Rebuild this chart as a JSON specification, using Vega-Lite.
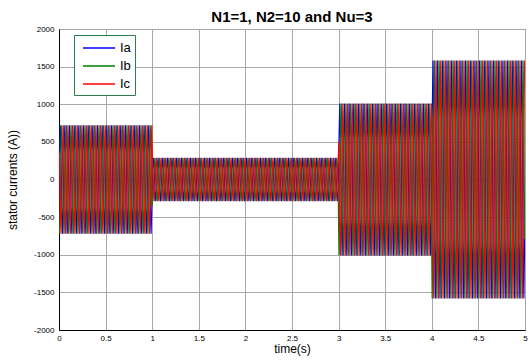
{"$schema":"https://vega.github.io/schema/vega-lite/v6.json","width":466,"height":301,"autosize":{"type":"none"},"padding":{"left":59,"top":29,"right":4,"bottom":30},"background":"white",
"title":{"text":"N1=1, N2=10 and Nu=3","fontSize":15,"fontWeight":"bold","font":"Liberation Sans","color":"black","anchor":"middle","offset":0},
"data":{"values":[
{"t":0.004,"Ia":360,"Ib":-720,"Ic":360},{"t":0.013,"Ia":720,"Ib":-360,"Ic":-360},{"t":0.021,"Ia":360,"Ib":360,"Ic":-720},{"t":0.029,"Ia":-360,"Ib":720,"Ic":-360},{"t":0.038,"Ia":-720,"Ib":360,"Ic":360},{"t":0.046,"Ia":-360,"Ib":-360,"Ic":720},
{"t":0.054,"Ia":360,"Ib":-720,"Ic":360},{"t":0.063,"Ia":720,"Ib":-360,"Ic":-360},{"t":0.071,"Ia":360,"Ib":360,"Ic":-720},{"t":0.079,"Ia":-360,"Ib":720,"Ic":-360},{"t":0.088,"Ia":-720,"Ib":360,"Ic":360},{"t":0.096,"Ia":-360,"Ib":-360,"Ic":720},
{"t":0.104,"Ia":360,"Ib":-720,"Ic":360},{"t":0.113,"Ia":720,"Ib":-360,"Ic":-360},{"t":0.121,"Ia":360,"Ib":360,"Ic":-720},{"t":0.129,"Ia":-360,"Ib":720,"Ic":-360},{"t":0.138,"Ia":-720,"Ib":360,"Ic":360},{"t":0.146,"Ia":-360,"Ib":-360,"Ic":720},
{"t":0.154,"Ia":360,"Ib":-720,"Ic":360},{"t":0.163,"Ia":720,"Ib":-360,"Ic":-360},{"t":0.171,"Ia":360,"Ib":360,"Ic":-720},{"t":0.179,"Ia":-360,"Ib":720,"Ic":-360},{"t":0.188,"Ia":-720,"Ib":360,"Ic":360},{"t":0.196,"Ia":-360,"Ib":-360,"Ic":720},
{"t":0.204,"Ia":360,"Ib":-720,"Ic":360},{"t":0.213,"Ia":720,"Ib":-360,"Ic":-360},{"t":0.221,"Ia":360,"Ib":360,"Ic":-720},{"t":0.229,"Ia":-360,"Ib":720,"Ic":-360},{"t":0.238,"Ia":-720,"Ib":360,"Ic":360},{"t":0.246,"Ia":-360,"Ib":-360,"Ic":720},
{"t":0.254,"Ia":360,"Ib":-720,"Ic":360},{"t":0.263,"Ia":720,"Ib":-360,"Ic":-360},{"t":0.271,"Ia":360,"Ib":360,"Ic":-720},{"t":0.279,"Ia":-360,"Ib":720,"Ic":-360},{"t":0.288,"Ia":-720,"Ib":360,"Ic":360},{"t":0.296,"Ia":-360,"Ib":-360,"Ic":720},
{"t":0.304,"Ia":360,"Ib":-720,"Ic":360},{"t":0.313,"Ia":720,"Ib":-360,"Ic":-360},{"t":0.321,"Ia":360,"Ib":360,"Ic":-720},{"t":0.329,"Ia":-360,"Ib":720,"Ic":-360},{"t":0.338,"Ia":-720,"Ib":360,"Ic":360},{"t":0.346,"Ia":-360,"Ib":-360,"Ic":720},
{"t":0.354,"Ia":360,"Ib":-720,"Ic":360},{"t":0.363,"Ia":720,"Ib":-360,"Ic":-360},{"t":0.371,"Ia":360,"Ib":360,"Ic":-720},{"t":0.379,"Ia":-360,"Ib":720,"Ic":-360},{"t":0.388,"Ia":-720,"Ib":360,"Ic":360},{"t":0.396,"Ia":-360,"Ib":-360,"Ic":720},
{"t":0.404,"Ia":360,"Ib":-720,"Ic":360},{"t":0.413,"Ia":720,"Ib":-360,"Ic":-360},{"t":0.421,"Ia":360,"Ib":360,"Ic":-720},{"t":0.429,"Ia":-360,"Ib":720,"Ic":-360},{"t":0.438,"Ia":-720,"Ib":360,"Ic":360},{"t":0.446,"Ia":-360,"Ib":-360,"Ic":720},
{"t":0.454,"Ia":360,"Ib":-720,"Ic":360},{"t":0.463,"Ia":720,"Ib":-360,"Ic":-360},{"t":0.471,"Ia":360,"Ib":360,"Ic":-720},{"t":0.479,"Ia":-360,"Ib":720,"Ic":-360},{"t":0.488,"Ia":-720,"Ib":360,"Ic":360},{"t":0.496,"Ia":-360,"Ib":-360,"Ic":720},
{"t":0.504,"Ia":360,"Ib":-720,"Ic":360},{"t":0.513,"Ia":720,"Ib":-360,"Ic":-360},{"t":0.521,"Ia":360,"Ib":360,"Ic":-720},{"t":0.529,"Ia":-360,"Ib":720,"Ic":-360},{"t":0.538,"Ia":-720,"Ib":360,"Ic":360},{"t":0.546,"Ia":-360,"Ib":-360,"Ic":720},
{"t":0.554,"Ia":360,"Ib":-720,"Ic":360},{"t":0.563,"Ia":720,"Ib":-360,"Ic":-360},{"t":0.571,"Ia":360,"Ib":360,"Ic":-720},{"t":0.579,"Ia":-360,"Ib":720,"Ic":-360},{"t":0.588,"Ia":-720,"Ib":360,"Ic":360},{"t":0.596,"Ia":-360,"Ib":-360,"Ic":720},
{"t":0.604,"Ia":360,"Ib":-720,"Ic":360},{"t":0.613,"Ia":720,"Ib":-360,"Ic":-360},{"t":0.621,"Ia":360,"Ib":360,"Ic":-720},{"t":0.629,"Ia":-360,"Ib":720,"Ic":-360},{"t":0.638,"Ia":-720,"Ib":360,"Ic":360},{"t":0.646,"Ia":-360,"Ib":-360,"Ic":720},
{"t":0.654,"Ia":360,"Ib":-720,"Ic":360},{"t":0.663,"Ia":720,"Ib":-360,"Ic":-360},{"t":0.671,"Ia":360,"Ib":360,"Ic":-720},{"t":0.679,"Ia":-360,"Ib":720,"Ic":-360},{"t":0.688,"Ia":-720,"Ib":360,"Ic":360},{"t":0.696,"Ia":-360,"Ib":-360,"Ic":720},
{"t":0.704,"Ia":360,"Ib":-720,"Ic":360},{"t":0.713,"Ia":720,"Ib":-360,"Ic":-360},{"t":0.721,"Ia":360,"Ib":360,"Ic":-720},{"t":0.729,"Ia":-360,"Ib":720,"Ic":-360},{"t":0.738,"Ia":-720,"Ib":360,"Ic":360},{"t":0.746,"Ia":-360,"Ib":-360,"Ic":720},
{"t":0.754,"Ia":360,"Ib":-720,"Ic":360},{"t":0.763,"Ia":720,"Ib":-360,"Ic":-360},{"t":0.771,"Ia":360,"Ib":360,"Ic":-720},{"t":0.779,"Ia":-360,"Ib":720,"Ic":-360},{"t":0.788,"Ia":-720,"Ib":360,"Ic":360},{"t":0.796,"Ia":-360,"Ib":-360,"Ic":720},
{"t":0.804,"Ia":360,"Ib":-720,"Ic":360},{"t":0.813,"Ia":720,"Ib":-360,"Ic":-360},{"t":0.821,"Ia":360,"Ib":360,"Ic":-720},{"t":0.829,"Ia":-360,"Ib":720,"Ic":-360},{"t":0.838,"Ia":-720,"Ib":360,"Ic":360},{"t":0.846,"Ia":-360,"Ib":-360,"Ic":720},
{"t":0.854,"Ia":360,"Ib":-720,"Ic":360},{"t":0.863,"Ia":720,"Ib":-360,"Ic":-360},{"t":0.871,"Ia":360,"Ib":360,"Ic":-720},{"t":0.879,"Ia":-360,"Ib":720,"Ic":-360},{"t":0.888,"Ia":-720,"Ib":360,"Ic":360},{"t":0.896,"Ia":-360,"Ib":-360,"Ic":720},
{"t":0.904,"Ia":360,"Ib":-720,"Ic":360},{"t":0.913,"Ia":720,"Ib":-360,"Ic":-360},{"t":0.921,"Ia":360,"Ib":360,"Ic":-720},{"t":0.929,"Ia":-360,"Ib":720,"Ic":-360},{"t":0.938,"Ia":-720,"Ib":360,"Ic":360},{"t":0.946,"Ia":-360,"Ib":-360,"Ic":720},
{"t":0.954,"Ia":360,"Ib":-720,"Ic":360},{"t":0.963,"Ia":720,"Ib":-360,"Ic":-360},{"t":0.971,"Ia":360,"Ib":360,"Ic":-720},{"t":0.979,"Ia":-360,"Ib":720,"Ic":-360},{"t":0.988,"Ia":-720,"Ib":360,"Ic":360},{"t":0.996,"Ia":-360,"Ib":-360,"Ic":720},
{"t":1.004,"Ia":145,"Ib":-290,"Ic":145},{"t":1.013,"Ia":290,"Ib":-145,"Ic":-145},{"t":1.021,"Ia":145,"Ib":145,"Ic":-290},{"t":1.029,"Ia":-145,"Ib":290,"Ic":-145},{"t":1.038,"Ia":-290,"Ib":145,"Ic":145},{"t":1.046,"Ia":-145,"Ib":-145,"Ic":290},
{"t":1.054,"Ia":145,"Ib":-290,"Ic":145},{"t":1.063,"Ia":290,"Ib":-145,"Ic":-145},{"t":1.071,"Ia":145,"Ib":145,"Ic":-290},{"t":1.079,"Ia":-145,"Ib":290,"Ic":-145},{"t":1.088,"Ia":-290,"Ib":145,"Ic":145},{"t":1.096,"Ia":-145,"Ib":-145,"Ic":290},
{"t":1.104,"Ia":145,"Ib":-290,"Ic":145},{"t":1.113,"Ia":290,"Ib":-145,"Ic":-145},{"t":1.121,"Ia":145,"Ib":145,"Ic":-290},{"t":1.129,"Ia":-145,"Ib":290,"Ic":-145},{"t":1.138,"Ia":-290,"Ib":145,"Ic":145},{"t":1.146,"Ia":-145,"Ib":-145,"Ic":290},
{"t":1.154,"Ia":145,"Ib":-290,"Ic":145},{"t":1.163,"Ia":290,"Ib":-145,"Ic":-145},{"t":1.171,"Ia":145,"Ib":145,"Ic":-290},{"t":1.179,"Ia":-145,"Ib":290,"Ic":-145},{"t":1.188,"Ia":-290,"Ib":145,"Ic":145},{"t":1.196,"Ia":-145,"Ib":-145,"Ic":290},
{"t":1.204,"Ia":145,"Ib":-290,"Ic":145},{"t":1.213,"Ia":290,"Ib":-145,"Ic":-145},{"t":1.221,"Ia":145,"Ib":145,"Ic":-290},{"t":1.229,"Ia":-145,"Ib":290,"Ic":-145},{"t":1.238,"Ia":-290,"Ib":145,"Ic":145},{"t":1.246,"Ia":-145,"Ib":-145,"Ic":290},
{"t":1.254,"Ia":145,"Ib":-290,"Ic":145},{"t":1.263,"Ia":290,"Ib":-145,"Ic":-145},{"t":1.271,"Ia":145,"Ib":145,"Ic":-290},{"t":1.279,"Ia":-145,"Ib":290,"Ic":-145},{"t":1.288,"Ia":-290,"Ib":145,"Ic":145},{"t":1.296,"Ia":-145,"Ib":-145,"Ic":290},
{"t":1.304,"Ia":145,"Ib":-290,"Ic":145},{"t":1.313,"Ia":290,"Ib":-145,"Ic":-145},{"t":1.321,"Ia":145,"Ib":145,"Ic":-290},{"t":1.329,"Ia":-145,"Ib":290,"Ic":-145},{"t":1.338,"Ia":-290,"Ib":145,"Ic":145},{"t":1.346,"Ia":-145,"Ib":-145,"Ic":290},
{"t":1.354,"Ia":145,"Ib":-290,"Ic":145},{"t":1.363,"Ia":290,"Ib":-145,"Ic":-145},{"t":1.371,"Ia":145,"Ib":145,"Ic":-290},{"t":1.379,"Ia":-145,"Ib":290,"Ic":-145},{"t":1.388,"Ia":-290,"Ib":145,"Ic":145},{"t":1.396,"Ia":-145,"Ib":-145,"Ic":290},
{"t":1.404,"Ia":145,"Ib":-290,"Ic":145},{"t":1.413,"Ia":290,"Ib":-145,"Ic":-145},{"t":1.421,"Ia":145,"Ib":145,"Ic":-290},{"t":1.429,"Ia":-145,"Ib":290,"Ic":-145},{"t":1.438,"Ia":-290,"Ib":145,"Ic":145},{"t":1.446,"Ia":-145,"Ib":-145,"Ic":290},
{"t":1.454,"Ia":145,"Ib":-290,"Ic":145},{"t":1.463,"Ia":290,"Ib":-145,"Ic":-145},{"t":1.471,"Ia":145,"Ib":145,"Ic":-290},{"t":1.479,"Ia":-145,"Ib":290,"Ic":-145},{"t":1.488,"Ia":-290,"Ib":145,"Ic":145},{"t":1.496,"Ia":-145,"Ib":-145,"Ic":290},
{"t":1.504,"Ia":145,"Ib":-290,"Ic":145},{"t":1.513,"Ia":290,"Ib":-145,"Ic":-145},{"t":1.521,"Ia":145,"Ib":145,"Ic":-290},{"t":1.529,"Ia":-145,"Ib":290,"Ic":-145},{"t":1.538,"Ia":-290,"Ib":145,"Ic":145},{"t":1.546,"Ia":-145,"Ib":-145,"Ic":290},
{"t":1.554,"Ia":145,"Ib":-290,"Ic":145},{"t":1.563,"Ia":290,"Ib":-145,"Ic":-145},{"t":1.571,"Ia":145,"Ib":145,"Ic":-290},{"t":1.579,"Ia":-145,"Ib":290,"Ic":-145},{"t":1.588,"Ia":-290,"Ib":145,"Ic":145},{"t":1.596,"Ia":-145,"Ib":-145,"Ic":290},
{"t":1.604,"Ia":145,"Ib":-290,"Ic":145},{"t":1.613,"Ia":290,"Ib":-145,"Ic":-145},{"t":1.621,"Ia":145,"Ib":145,"Ic":-290},{"t":1.629,"Ia":-145,"Ib":290,"Ic":-145},{"t":1.638,"Ia":-290,"Ib":145,"Ic":145},{"t":1.646,"Ia":-145,"Ib":-145,"Ic":290},
{"t":1.654,"Ia":145,"Ib":-290,"Ic":145},{"t":1.663,"Ia":290,"Ib":-145,"Ic":-145},{"t":1.671,"Ia":145,"Ib":145,"Ic":-290},{"t":1.679,"Ia":-145,"Ib":290,"Ic":-145},{"t":1.688,"Ia":-290,"Ib":145,"Ic":145},{"t":1.696,"Ia":-145,"Ib":-145,"Ic":290},
{"t":1.704,"Ia":145,"Ib":-290,"Ic":145},{"t":1.713,"Ia":290,"Ib":-145,"Ic":-145},{"t":1.721,"Ia":145,"Ib":145,"Ic":-290},{"t":1.729,"Ia":-145,"Ib":290,"Ic":-145},{"t":1.738,"Ia":-290,"Ib":145,"Ic":145},{"t":1.746,"Ia":-145,"Ib":-145,"Ic":290},
{"t":1.754,"Ia":145,"Ib":-290,"Ic":145},{"t":1.763,"Ia":290,"Ib":-145,"Ic":-145},{"t":1.771,"Ia":145,"Ib":145,"Ic":-290},{"t":1.779,"Ia":-145,"Ib":290,"Ic":-145},{"t":1.788,"Ia":-290,"Ib":145,"Ic":145},{"t":1.796,"Ia":-145,"Ib":-145,"Ic":290},
{"t":1.804,"Ia":145,"Ib":-290,"Ic":145},{"t":1.813,"Ia":290,"Ib":-145,"Ic":-145},{"t":1.821,"Ia":145,"Ib":145,"Ic":-290},{"t":1.829,"Ia":-145,"Ib":290,"Ic":-145},{"t":1.838,"Ia":-290,"Ib":145,"Ic":145},{"t":1.846,"Ia":-145,"Ib":-145,"Ic":290},
{"t":1.854,"Ia":145,"Ib":-290,"Ic":145},{"t":1.863,"Ia":290,"Ib":-145,"Ic":-145},{"t":1.871,"Ia":145,"Ib":145,"Ic":-290},{"t":1.879,"Ia":-145,"Ib":290,"Ic":-145},{"t":1.888,"Ia":-290,"Ib":145,"Ic":145},{"t":1.896,"Ia":-145,"Ib":-145,"Ic":290},
{"t":1.904,"Ia":145,"Ib":-290,"Ic":145},{"t":1.913,"Ia":290,"Ib":-145,"Ic":-145},{"t":1.921,"Ia":145,"Ib":145,"Ic":-290},{"t":1.929,"Ia":-145,"Ib":290,"Ic":-145},{"t":1.938,"Ia":-290,"Ib":145,"Ic":145},{"t":1.946,"Ia":-145,"Ib":-145,"Ic":290},
{"t":1.954,"Ia":145,"Ib":-290,"Ic":145},{"t":1.963,"Ia":290,"Ib":-145,"Ic":-145},{"t":1.971,"Ia":145,"Ib":145,"Ic":-290},{"t":1.979,"Ia":-145,"Ib":290,"Ic":-145},{"t":1.988,"Ia":-290,"Ib":145,"Ic":145},{"t":1.996,"Ia":-145,"Ib":-145,"Ic":290},
{"t":2.004,"Ia":145,"Ib":-290,"Ic":145},{"t":2.013,"Ia":290,"Ib":-145,"Ic":-145},{"t":2.021,"Ia":145,"Ib":145,"Ic":-290},{"t":2.029,"Ia":-145,"Ib":290,"Ic":-145},{"t":2.038,"Ia":-290,"Ib":145,"Ic":145},{"t":2.046,"Ia":-145,"Ib":-145,"Ic":290},
{"t":2.054,"Ia":145,"Ib":-290,"Ic":145},{"t":2.063,"Ia":290,"Ib":-145,"Ic":-145},{"t":2.071,"Ia":145,"Ib":145,"Ic":-290},{"t":2.079,"Ia":-145,"Ib":290,"Ic":-145},{"t":2.088,"Ia":-290,"Ib":145,"Ic":145},{"t":2.096,"Ia":-145,"Ib":-145,"Ic":290},
{"t":2.104,"Ia":145,"Ib":-290,"Ic":145},{"t":2.113,"Ia":290,"Ib":-145,"Ic":-145},{"t":2.121,"Ia":145,"Ib":145,"Ic":-290},{"t":2.129,"Ia":-145,"Ib":290,"Ic":-145},{"t":2.138,"Ia":-290,"Ib":145,"Ic":145},{"t":2.146,"Ia":-145,"Ib":-145,"Ic":290},
{"t":2.154,"Ia":145,"Ib":-290,"Ic":145},{"t":2.163,"Ia":290,"Ib":-145,"Ic":-145},{"t":2.171,"Ia":145,"Ib":145,"Ic":-290},{"t":2.179,"Ia":-145,"Ib":290,"Ic":-145},{"t":2.188,"Ia":-290,"Ib":145,"Ic":145},{"t":2.196,"Ia":-145,"Ib":-145,"Ic":290},
{"t":2.204,"Ia":145,"Ib":-290,"Ic":145},{"t":2.213,"Ia":290,"Ib":-145,"Ic":-145},{"t":2.221,"Ia":145,"Ib":145,"Ic":-290},{"t":2.229,"Ia":-145,"Ib":290,"Ic":-145},{"t":2.238,"Ia":-290,"Ib":145,"Ic":145},{"t":2.246,"Ia":-145,"Ib":-145,"Ic":290},
{"t":2.254,"Ia":145,"Ib":-290,"Ic":145},{"t":2.263,"Ia":290,"Ib":-145,"Ic":-145},{"t":2.271,"Ia":145,"Ib":145,"Ic":-290},{"t":2.279,"Ia":-145,"Ib":290,"Ic":-145},{"t":2.288,"Ia":-290,"Ib":145,"Ic":145},{"t":2.296,"Ia":-145,"Ib":-145,"Ic":290},
{"t":2.304,"Ia":145,"Ib":-290,"Ic":145},{"t":2.313,"Ia":290,"Ib":-145,"Ic":-145},{"t":2.321,"Ia":145,"Ib":145,"Ic":-290},{"t":2.329,"Ia":-145,"Ib":290,"Ic":-145},{"t":2.338,"Ia":-290,"Ib":145,"Ic":145},{"t":2.346,"Ia":-145,"Ib":-145,"Ic":290},
{"t":2.354,"Ia":145,"Ib":-290,"Ic":145},{"t":2.363,"Ia":290,"Ib":-145,"Ic":-145},{"t":2.371,"Ia":145,"Ib":145,"Ic":-290},{"t":2.379,"Ia":-145,"Ib":290,"Ic":-145},{"t":2.388,"Ia":-290,"Ib":145,"Ic":145},{"t":2.396,"Ia":-145,"Ib":-145,"Ic":290},
{"t":2.404,"Ia":145,"Ib":-290,"Ic":145},{"t":2.413,"Ia":290,"Ib":-145,"Ic":-145},{"t":2.421,"Ia":145,"Ib":145,"Ic":-290},{"t":2.429,"Ia":-145,"Ib":290,"Ic":-145},{"t":2.438,"Ia":-290,"Ib":145,"Ic":145},{"t":2.446,"Ia":-145,"Ib":-145,"Ic":290},
{"t":2.454,"Ia":145,"Ib":-290,"Ic":145},{"t":2.463,"Ia":290,"Ib":-145,"Ic":-145},{"t":2.471,"Ia":145,"Ib":145,"Ic":-290},{"t":2.479,"Ia":-145,"Ib":290,"Ic":-145},{"t":2.488,"Ia":-290,"Ib":145,"Ic":145},{"t":2.496,"Ia":-145,"Ib":-145,"Ic":290},
{"t":2.504,"Ia":145,"Ib":-290,"Ic":145},{"t":2.513,"Ia":290,"Ib":-145,"Ic":-145},{"t":2.521,"Ia":145,"Ib":145,"Ic":-290},{"t":2.529,"Ia":-145,"Ib":290,"Ic":-145},{"t":2.538,"Ia":-290,"Ib":145,"Ic":145},{"t":2.546,"Ia":-145,"Ib":-145,"Ic":290},
{"t":2.554,"Ia":145,"Ib":-290,"Ic":145},{"t":2.563,"Ia":290,"Ib":-145,"Ic":-145},{"t":2.571,"Ia":145,"Ib":145,"Ic":-290},{"t":2.579,"Ia":-145,"Ib":290,"Ic":-145},{"t":2.588,"Ia":-290,"Ib":145,"Ic":145},{"t":2.596,"Ia":-145,"Ib":-145,"Ic":290},
{"t":2.604,"Ia":145,"Ib":-290,"Ic":145},{"t":2.613,"Ia":290,"Ib":-145,"Ic":-145},{"t":2.621,"Ia":145,"Ib":145,"Ic":-290},{"t":2.629,"Ia":-145,"Ib":290,"Ic":-145},{"t":2.638,"Ia":-290,"Ib":145,"Ic":145},{"t":2.646,"Ia":-145,"Ib":-145,"Ic":290},
{"t":2.654,"Ia":145,"Ib":-290,"Ic":145},{"t":2.663,"Ia":290,"Ib":-145,"Ic":-145},{"t":2.671,"Ia":145,"Ib":145,"Ic":-290},{"t":2.679,"Ia":-145,"Ib":290,"Ic":-145},{"t":2.688,"Ia":-290,"Ib":145,"Ic":145},{"t":2.696,"Ia":-145,"Ib":-145,"Ic":290},
{"t":2.704,"Ia":145,"Ib":-290,"Ic":145},{"t":2.713,"Ia":290,"Ib":-145,"Ic":-145},{"t":2.721,"Ia":145,"Ib":145,"Ic":-290},{"t":2.729,"Ia":-145,"Ib":290,"Ic":-145},{"t":2.738,"Ia":-290,"Ib":145,"Ic":145},{"t":2.746,"Ia":-145,"Ib":-145,"Ic":290},
{"t":2.754,"Ia":145,"Ib":-290,"Ic":145},{"t":2.763,"Ia":290,"Ib":-145,"Ic":-145},{"t":2.771,"Ia":145,"Ib":145,"Ic":-290},{"t":2.779,"Ia":-145,"Ib":290,"Ic":-145},{"t":2.788,"Ia":-290,"Ib":145,"Ic":145},{"t":2.796,"Ia":-145,"Ib":-145,"Ic":290},
{"t":2.804,"Ia":145,"Ib":-290,"Ic":145},{"t":2.813,"Ia":290,"Ib":-145,"Ic":-145},{"t":2.821,"Ia":145,"Ib":145,"Ic":-290},{"t":2.829,"Ia":-145,"Ib":290,"Ic":-145},{"t":2.838,"Ia":-290,"Ib":145,"Ic":145},{"t":2.846,"Ia":-145,"Ib":-145,"Ic":290},
{"t":2.854,"Ia":145,"Ib":-290,"Ic":145},{"t":2.863,"Ia":290,"Ib":-145,"Ic":-145},{"t":2.871,"Ia":145,"Ib":145,"Ic":-290},{"t":2.879,"Ia":-145,"Ib":290,"Ic":-145},{"t":2.888,"Ia":-290,"Ib":145,"Ic":145},{"t":2.896,"Ia":-145,"Ib":-145,"Ic":290},
{"t":2.904,"Ia":145,"Ib":-290,"Ic":145},{"t":2.913,"Ia":290,"Ib":-145,"Ic":-145},{"t":2.921,"Ia":145,"Ib":145,"Ic":-290},{"t":2.929,"Ia":-145,"Ib":290,"Ic":-145},{"t":2.938,"Ia":-290,"Ib":145,"Ic":145},{"t":2.946,"Ia":-145,"Ib":-145,"Ic":290},
{"t":2.954,"Ia":145,"Ib":-290,"Ic":145},{"t":2.963,"Ia":290,"Ib":-145,"Ic":-145},{"t":2.971,"Ia":145,"Ib":145,"Ic":-290},{"t":2.979,"Ia":-145,"Ib":290,"Ic":-145},{"t":2.988,"Ia":-290,"Ib":145,"Ic":145},{"t":2.996,"Ia":-145,"Ib":-145,"Ic":290},
{"t":3.004,"Ia":505,"Ib":-1010,"Ic":505},{"t":3.013,"Ia":1010,"Ib":-505,"Ic":-505},{"t":3.021,"Ia":505,"Ib":505,"Ic":-1010},{"t":3.029,"Ia":-505,"Ib":1010,"Ic":-505},{"t":3.038,"Ia":-1010,"Ib":505,"Ic":505},{"t":3.046,"Ia":-505,"Ib":-505,"Ic":1010},
{"t":3.054,"Ia":505,"Ib":-1010,"Ic":505},{"t":3.063,"Ia":1010,"Ib":-505,"Ic":-505},{"t":3.071,"Ia":505,"Ib":505,"Ic":-1010},{"t":3.079,"Ia":-505,"Ib":1010,"Ic":-505},{"t":3.088,"Ia":-1010,"Ib":505,"Ic":505},{"t":3.096,"Ia":-505,"Ib":-505,"Ic":1010},
{"t":3.104,"Ia":505,"Ib":-1010,"Ic":505},{"t":3.113,"Ia":1010,"Ib":-505,"Ic":-505},{"t":3.121,"Ia":505,"Ib":505,"Ic":-1010},{"t":3.129,"Ia":-505,"Ib":1010,"Ic":-505},{"t":3.138,"Ia":-1010,"Ib":505,"Ic":505},{"t":3.146,"Ia":-505,"Ib":-505,"Ic":1010},
{"t":3.154,"Ia":505,"Ib":-1010,"Ic":505},{"t":3.163,"Ia":1010,"Ib":-505,"Ic":-505},{"t":3.171,"Ia":505,"Ib":505,"Ic":-1010},{"t":3.179,"Ia":-505,"Ib":1010,"Ic":-505},{"t":3.188,"Ia":-1010,"Ib":505,"Ic":505},{"t":3.196,"Ia":-505,"Ib":-505,"Ic":1010},
{"t":3.204,"Ia":505,"Ib":-1010,"Ic":505},{"t":3.213,"Ia":1010,"Ib":-505,"Ic":-505},{"t":3.221,"Ia":505,"Ib":505,"Ic":-1010},{"t":3.229,"Ia":-505,"Ib":1010,"Ic":-505},{"t":3.238,"Ia":-1010,"Ib":505,"Ic":505},{"t":3.246,"Ia":-505,"Ib":-505,"Ic":1010},
{"t":3.254,"Ia":505,"Ib":-1010,"Ic":505},{"t":3.263,"Ia":1010,"Ib":-505,"Ic":-505},{"t":3.271,"Ia":505,"Ib":505,"Ic":-1010},{"t":3.279,"Ia":-505,"Ib":1010,"Ic":-505},{"t":3.288,"Ia":-1010,"Ib":505,"Ic":505},{"t":3.296,"Ia":-505,"Ib":-505,"Ic":1010},
{"t":3.304,"Ia":505,"Ib":-1010,"Ic":505},{"t":3.313,"Ia":1010,"Ib":-505,"Ic":-505},{"t":3.321,"Ia":505,"Ib":505,"Ic":-1010},{"t":3.329,"Ia":-505,"Ib":1010,"Ic":-505},{"t":3.338,"Ia":-1010,"Ib":505,"Ic":505},{"t":3.346,"Ia":-505,"Ib":-505,"Ic":1010},
{"t":3.354,"Ia":505,"Ib":-1010,"Ic":505},{"t":3.363,"Ia":1010,"Ib":-505,"Ic":-505},{"t":3.371,"Ia":505,"Ib":505,"Ic":-1010},{"t":3.379,"Ia":-505,"Ib":1010,"Ic":-505},{"t":3.388,"Ia":-1010,"Ib":505,"Ic":505},{"t":3.396,"Ia":-505,"Ib":-505,"Ic":1010},
{"t":3.404,"Ia":505,"Ib":-1010,"Ic":505},{"t":3.413,"Ia":1010,"Ib":-505,"Ic":-505},{"t":3.421,"Ia":505,"Ib":505,"Ic":-1010},{"t":3.429,"Ia":-505,"Ib":1010,"Ic":-505},{"t":3.438,"Ia":-1010,"Ib":505,"Ic":505},{"t":3.446,"Ia":-505,"Ib":-505,"Ic":1010},
{"t":3.454,"Ia":505,"Ib":-1010,"Ic":505},{"t":3.463,"Ia":1010,"Ib":-505,"Ic":-505},{"t":3.471,"Ia":505,"Ib":505,"Ic":-1010},{"t":3.479,"Ia":-505,"Ib":1010,"Ic":-505},{"t":3.488,"Ia":-1010,"Ib":505,"Ic":505},{"t":3.496,"Ia":-505,"Ib":-505,"Ic":1010},
{"t":3.504,"Ia":505,"Ib":-1010,"Ic":505},{"t":3.513,"Ia":1010,"Ib":-505,"Ic":-505},{"t":3.521,"Ia":505,"Ib":505,"Ic":-1010},{"t":3.529,"Ia":-505,"Ib":1010,"Ic":-505},{"t":3.538,"Ia":-1010,"Ib":505,"Ic":505},{"t":3.546,"Ia":-505,"Ib":-505,"Ic":1010},
{"t":3.554,"Ia":505,"Ib":-1010,"Ic":505},{"t":3.563,"Ia":1010,"Ib":-505,"Ic":-505},{"t":3.571,"Ia":505,"Ib":505,"Ic":-1010},{"t":3.579,"Ia":-505,"Ib":1010,"Ic":-505},{"t":3.588,"Ia":-1010,"Ib":505,"Ic":505},{"t":3.596,"Ia":-505,"Ib":-505,"Ic":1010},
{"t":3.604,"Ia":505,"Ib":-1010,"Ic":505},{"t":3.613,"Ia":1010,"Ib":-505,"Ic":-505},{"t":3.621,"Ia":505,"Ib":505,"Ic":-1010},{"t":3.629,"Ia":-505,"Ib":1010,"Ic":-505},{"t":3.638,"Ia":-1010,"Ib":505,"Ic":505},{"t":3.646,"Ia":-505,"Ib":-505,"Ic":1010},
{"t":3.654,"Ia":505,"Ib":-1010,"Ic":505},{"t":3.663,"Ia":1010,"Ib":-505,"Ic":-505},{"t":3.671,"Ia":505,"Ib":505,"Ic":-1010},{"t":3.679,"Ia":-505,"Ib":1010,"Ic":-505},{"t":3.688,"Ia":-1010,"Ib":505,"Ic":505},{"t":3.696,"Ia":-505,"Ib":-505,"Ic":1010},
{"t":3.704,"Ia":505,"Ib":-1010,"Ic":505},{"t":3.713,"Ia":1010,"Ib":-505,"Ic":-505},{"t":3.721,"Ia":505,"Ib":505,"Ic":-1010},{"t":3.729,"Ia":-505,"Ib":1010,"Ic":-505},{"t":3.738,"Ia":-1010,"Ib":505,"Ic":505},{"t":3.746,"Ia":-505,"Ib":-505,"Ic":1010},
{"t":3.754,"Ia":505,"Ib":-1010,"Ic":505},{"t":3.763,"Ia":1010,"Ib":-505,"Ic":-505},{"t":3.771,"Ia":505,"Ib":505,"Ic":-1010},{"t":3.779,"Ia":-505,"Ib":1010,"Ic":-505},{"t":3.788,"Ia":-1010,"Ib":505,"Ic":505},{"t":3.796,"Ia":-505,"Ib":-505,"Ic":1010},
{"t":3.804,"Ia":505,"Ib":-1010,"Ic":505},{"t":3.813,"Ia":1010,"Ib":-505,"Ic":-505},{"t":3.821,"Ia":505,"Ib":505,"Ic":-1010},{"t":3.829,"Ia":-505,"Ib":1010,"Ic":-505},{"t":3.838,"Ia":-1010,"Ib":505,"Ic":505},{"t":3.846,"Ia":-505,"Ib":-505,"Ic":1010},
{"t":3.854,"Ia":505,"Ib":-1010,"Ic":505},{"t":3.863,"Ia":1010,"Ib":-505,"Ic":-505},{"t":3.871,"Ia":505,"Ib":505,"Ic":-1010},{"t":3.879,"Ia":-505,"Ib":1010,"Ic":-505},{"t":3.888,"Ia":-1010,"Ib":505,"Ic":505},{"t":3.896,"Ia":-505,"Ib":-505,"Ic":1010},
{"t":3.904,"Ia":505,"Ib":-1010,"Ic":505},{"t":3.913,"Ia":1010,"Ib":-505,"Ic":-505},{"t":3.921,"Ia":505,"Ib":505,"Ic":-1010},{"t":3.929,"Ia":-505,"Ib":1010,"Ic":-505},{"t":3.938,"Ia":-1010,"Ib":505,"Ic":505},{"t":3.946,"Ia":-505,"Ib":-505,"Ic":1010},
{"t":3.954,"Ia":505,"Ib":-1010,"Ic":505},{"t":3.963,"Ia":1010,"Ib":-505,"Ic":-505},{"t":3.971,"Ia":505,"Ib":505,"Ic":-1010},{"t":3.979,"Ia":-505,"Ib":1010,"Ic":-505},{"t":3.988,"Ia":-1010,"Ib":505,"Ic":505},{"t":3.996,"Ia":-505,"Ib":-505,"Ic":1010},
{"t":4.004,"Ia":790,"Ib":-1580,"Ic":790},{"t":4.013,"Ia":1580,"Ib":-790,"Ic":-790},{"t":4.021,"Ia":790,"Ib":790,"Ic":-1580},{"t":4.029,"Ia":-790,"Ib":1580,"Ic":-790},{"t":4.038,"Ia":-1580,"Ib":790,"Ic":790},{"t":4.046,"Ia":-790,"Ib":-790,"Ic":1580},
{"t":4.054,"Ia":790,"Ib":-1580,"Ic":790},{"t":4.063,"Ia":1580,"Ib":-790,"Ic":-790},{"t":4.071,"Ia":790,"Ib":790,"Ic":-1580},{"t":4.079,"Ia":-790,"Ib":1580,"Ic":-790},{"t":4.088,"Ia":-1580,"Ib":790,"Ic":790},{"t":4.096,"Ia":-790,"Ib":-790,"Ic":1580},
{"t":4.104,"Ia":790,"Ib":-1580,"Ic":790},{"t":4.113,"Ia":1580,"Ib":-790,"Ic":-790},{"t":4.121,"Ia":790,"Ib":790,"Ic":-1580},{"t":4.129,"Ia":-790,"Ib":1580,"Ic":-790},{"t":4.138,"Ia":-1580,"Ib":790,"Ic":790},{"t":4.146,"Ia":-790,"Ib":-790,"Ic":1580},
{"t":4.154,"Ia":790,"Ib":-1580,"Ic":790},{"t":4.163,"Ia":1580,"Ib":-790,"Ic":-790},{"t":4.171,"Ia":790,"Ib":790,"Ic":-1580},{"t":4.179,"Ia":-790,"Ib":1580,"Ic":-790},{"t":4.188,"Ia":-1580,"Ib":790,"Ic":790},{"t":4.196,"Ia":-790,"Ib":-790,"Ic":1580},
{"t":4.204,"Ia":790,"Ib":-1580,"Ic":790},{"t":4.213,"Ia":1580,"Ib":-790,"Ic":-790},{"t":4.221,"Ia":790,"Ib":790,"Ic":-1580},{"t":4.229,"Ia":-790,"Ib":1580,"Ic":-790},{"t":4.238,"Ia":-1580,"Ib":790,"Ic":790},{"t":4.246,"Ia":-790,"Ib":-790,"Ic":1580},
{"t":4.254,"Ia":790,"Ib":-1580,"Ic":790},{"t":4.263,"Ia":1580,"Ib":-790,"Ic":-790},{"t":4.271,"Ia":790,"Ib":790,"Ic":-1580},{"t":4.279,"Ia":-790,"Ib":1580,"Ic":-790},{"t":4.288,"Ia":-1580,"Ib":790,"Ic":790},{"t":4.296,"Ia":-790,"Ib":-790,"Ic":1580},
{"t":4.304,"Ia":790,"Ib":-1580,"Ic":790},{"t":4.313,"Ia":1580,"Ib":-790,"Ic":-790},{"t":4.321,"Ia":790,"Ib":790,"Ic":-1580},{"t":4.329,"Ia":-790,"Ib":1580,"Ic":-790},{"t":4.338,"Ia":-1580,"Ib":790,"Ic":790},{"t":4.346,"Ia":-790,"Ib":-790,"Ic":1580},
{"t":4.354,"Ia":790,"Ib":-1580,"Ic":790},{"t":4.363,"Ia":1580,"Ib":-790,"Ic":-790},{"t":4.371,"Ia":790,"Ib":790,"Ic":-1580},{"t":4.379,"Ia":-790,"Ib":1580,"Ic":-790},{"t":4.388,"Ia":-1580,"Ib":790,"Ic":790},{"t":4.396,"Ia":-790,"Ib":-790,"Ic":1580},
{"t":4.404,"Ia":790,"Ib":-1580,"Ic":790},{"t":4.413,"Ia":1580,"Ib":-790,"Ic":-790},{"t":4.421,"Ia":790,"Ib":790,"Ic":-1580},{"t":4.429,"Ia":-790,"Ib":1580,"Ic":-790},{"t":4.438,"Ia":-1580,"Ib":790,"Ic":790},{"t":4.446,"Ia":-790,"Ib":-790,"Ic":1580},
{"t":4.454,"Ia":790,"Ib":-1580,"Ic":790},{"t":4.463,"Ia":1580,"Ib":-790,"Ic":-790},{"t":4.471,"Ia":790,"Ib":790,"Ic":-1580},{"t":4.479,"Ia":-790,"Ib":1580,"Ic":-790},{"t":4.488,"Ia":-1580,"Ib":790,"Ic":790},{"t":4.496,"Ia":-790,"Ib":-790,"Ic":1580},
{"t":4.504,"Ia":790,"Ib":-1580,"Ic":790},{"t":4.513,"Ia":1580,"Ib":-790,"Ic":-790},{"t":4.521,"Ia":790,"Ib":790,"Ic":-1580},{"t":4.529,"Ia":-790,"Ib":1580,"Ic":-790},{"t":4.538,"Ia":-1580,"Ib":790,"Ic":790},{"t":4.546,"Ia":-790,"Ib":-790,"Ic":1580},
{"t":4.554,"Ia":790,"Ib":-1580,"Ic":790},{"t":4.563,"Ia":1580,"Ib":-790,"Ic":-790},{"t":4.571,"Ia":790,"Ib":790,"Ic":-1580},{"t":4.579,"Ia":-790,"Ib":1580,"Ic":-790},{"t":4.588,"Ia":-1580,"Ib":790,"Ic":790},{"t":4.596,"Ia":-790,"Ib":-790,"Ic":1580},
{"t":4.604,"Ia":790,"Ib":-1580,"Ic":790},{"t":4.613,"Ia":1580,"Ib":-790,"Ic":-790},{"t":4.621,"Ia":790,"Ib":790,"Ic":-1580},{"t":4.629,"Ia":-790,"Ib":1580,"Ic":-790},{"t":4.638,"Ia":-1580,"Ib":790,"Ic":790},{"t":4.646,"Ia":-790,"Ib":-790,"Ic":1580},
{"t":4.654,"Ia":790,"Ib":-1580,"Ic":790},{"t":4.663,"Ia":1580,"Ib":-790,"Ic":-790},{"t":4.671,"Ia":790,"Ib":790,"Ic":-1580},{"t":4.679,"Ia":-790,"Ib":1580,"Ic":-790},{"t":4.688,"Ia":-1580,"Ib":790,"Ic":790},{"t":4.696,"Ia":-790,"Ib":-790,"Ic":1580},
{"t":4.704,"Ia":790,"Ib":-1580,"Ic":790},{"t":4.713,"Ia":1580,"Ib":-790,"Ic":-790},{"t":4.721,"Ia":790,"Ib":790,"Ic":-1580},{"t":4.729,"Ia":-790,"Ib":1580,"Ic":-790},{"t":4.738,"Ia":-1580,"Ib":790,"Ic":790},{"t":4.746,"Ia":-790,"Ib":-790,"Ic":1580},
{"t":4.754,"Ia":790,"Ib":-1580,"Ic":790},{"t":4.763,"Ia":1580,"Ib":-790,"Ic":-790},{"t":4.771,"Ia":790,"Ib":790,"Ic":-1580},{"t":4.779,"Ia":-790,"Ib":1580,"Ic":-790},{"t":4.788,"Ia":-1580,"Ib":790,"Ic":790},{"t":4.796,"Ia":-790,"Ib":-790,"Ic":1580},
{"t":4.804,"Ia":790,"Ib":-1580,"Ic":790},{"t":4.813,"Ia":1580,"Ib":-790,"Ic":-790},{"t":4.821,"Ia":790,"Ib":790,"Ic":-1580},{"t":4.829,"Ia":-790,"Ib":1580,"Ic":-790},{"t":4.838,"Ia":-1580,"Ib":790,"Ic":790},{"t":4.846,"Ia":-790,"Ib":-790,"Ic":1580},
{"t":4.854,"Ia":790,"Ib":-1580,"Ic":790},{"t":4.863,"Ia":1580,"Ib":-790,"Ic":-790},{"t":4.871,"Ia":790,"Ib":790,"Ic":-1580},{"t":4.879,"Ia":-790,"Ib":1580,"Ic":-790},{"t":4.888,"Ia":-1580,"Ib":790,"Ic":790},{"t":4.896,"Ia":-790,"Ib":-790,"Ic":1580},
{"t":4.904,"Ia":790,"Ib":-1580,"Ic":790},{"t":4.913,"Ia":1580,"Ib":-790,"Ic":-790},{"t":4.921,"Ia":790,"Ib":790,"Ic":-1580},{"t":4.929,"Ia":-790,"Ib":1580,"Ic":-790},{"t":4.938,"Ia":-1580,"Ib":790,"Ic":790},{"t":4.946,"Ia":-790,"Ib":-790,"Ic":1580},
{"t":4.954,"Ia":790,"Ib":-1580,"Ic":790},{"t":4.963,"Ia":1580,"Ib":-790,"Ic":-790},{"t":4.971,"Ia":790,"Ib":790,"Ic":-1580},{"t":4.979,"Ia":-790,"Ib":1580,"Ic":-790},{"t":4.988,"Ia":-1580,"Ib":790,"Ic":790},{"t":4.996,"Ia":-790,"Ib":-790,"Ic":1580}
]},
"transform":[{"fold":["Ia","Ib","Ic"],"as":["phase","current"]}],
"mark":{"type":"line","strokeWidth":1.2,"clip":true},
"encoding":{
"x":{"field":"t","type":"quantitative","scale":{"domain":[0,5],"nice":false,"zero":false},
"axis":{"title":"time(s)","values":[0,0.5,1,1.5,2,2.5,3,3.5,4,4.5,5],"labelExpr":"datum.value + ''","grid":true,"gridColor":"#a8a8a8","gridWidth":1,"ticks":false,"domainColor":"black","domainWidth":1,"labelFontSize":8,"labelFont":"Liberation Sans","labelColor":"black","labelPadding":4,"labelFlush":false,"titleFontSize":12,"titleFont":"Liberation Sans","titleFontWeight":"normal","titleColor":"black","titlePadding":1}},
"y":{"field":"current","type":"quantitative","scale":{"domain":[-2000,2000],"nice":false},
"axis":{"title":"stator currents (A))","values":[-2000,-1500,-1000,-500,0,500,1000,1500,2000],"labelExpr":"datum.value + ''","grid":true,"gridColor":"#a8a8a8","gridWidth":1,"ticks":false,"domainColor":"black","domainWidth":1,"labelFontSize":8,"labelFont":"Liberation Sans","labelColor":"black","labelPadding":5,"labelFlush":false,"titleFontSize":12,"titleFont":"Liberation Sans","titleFontWeight":"normal","titleColor":"black","titlePadding":14}},
"color":{"field":"phase","type":"nominal","scale":{"domain":["Ia","Ib","Ic"],"range":["#0000ff","#008000","#ff0000"]},
"legend":{"title":null,"orient":"none","legendX":15,"legendY":6,"direction":"vertical","symbolType":"M-0.5,0H3.5","symbolSize":256,"symbolStrokeWidth":1.5,"symbolOpacity":1,"symbolFillColor":"transparent","rowPadding":2,"labelFontSize":13,"labelFont":"Liberation Sans","labelColor":"black","labelOffset":24,"strokeColor":"#2e7d4f","fillColor":"white","padding":4}}
},
"config":{"view":{"stroke":"black","strokeWidth":1},"font":"Liberation Sans"}
}
